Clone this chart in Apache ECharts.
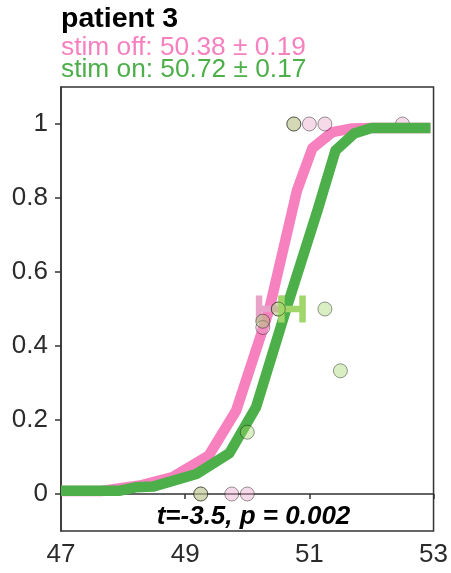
<!DOCTYPE html>
<html>
<head>
<meta charset="utf-8">
<script src="https://cdn.jsdelivr.net/npm/echarts@6/dist/echarts.min.js"></script>
<style>
  html, body { margin: 0; padding: 0; background: #fff; }
  #chart { width: 451px; height: 573px; }
</style>
</head>
<body>
<div id="chart"></div>
<script>
// Psychometric fits for patient 3, stimulation off vs on
const titleText = 'patient 3';
const offLabel = 'stim off: 50.38 \u00b1 0.19';
const onLabel = 'stim on: 50.72 \u00b1 0.17';
const statsText = 't=-3.5, p = 0.002';

const xTicks = [47, 49, 51, 53];
const yTicks = [0, 0.2, 0.4, 0.6, 0.8, 1];

// fitted curves (vertices)
const offCurveX = [47, 47.65, 48.27, 48.8, 49.38, 49.82, 50.35, 50.8, 51.05, 51.37, 51.69, 52.0, 52.95];
const offCurveY = [0.008, 0.008, 0.023, 0.046, 0.104, 0.225, 0.496, 0.82, 0.935, 0.978, 0.988, 0.989, 0.989];
const onCurveX = [47, 47.95, 48.2, 48.48, 49.18, 49.71, 50.14, 50.62, 51.13, 51.42, 51.72, 52.0, 52.95];
const onCurveY = [0.009, 0.009, 0.018, 0.02, 0.054, 0.11, 0.234, 0.496, 0.766, 0.928, 0.974, 0.989, 0.989];

// observed proportions per stimulus level
const offX = [49.25, 49.75, 50, 50.25, 50.5, 50.75, 51, 51.25, 52.5];
const offY = [0, 0, 0, 0.45, 0.5, 1, 1, 1, 1];
const onX = [49.25, 50, 50.25, 50.5, 50.75, 51.25, 51.5];
const onY = [0, 0.167, 0.467, 0.5, 1, 0.5, 0.333];

// threshold estimates: mean, standard error
const offMean = 50.38, offSE = 0.19;
const onMean = 50.72, onSE = 0.17;

const FONT = '"Liberation Sans", Arial, sans-serif';
const pinkLine = '#f781bf', greenLine = '#4daf4a';
const pinkLight = '#e9a3c9', greenLight = '#a1d76a';

const zip = (xs, ys) => xs.map((x, i) => [x, ys[i]]);

function errorBar(params, api) {
  const m = api.value(0), se = api.value(1), y = api.value(2);
  const l = api.coord([m - se, y]);
  const r = api.coord([m + se, y]);
  const capH = 13.5;
  const style = { stroke: api.visual('color'), lineWidth: 6.5, lineCap: 'butt' };
  return {
    type: 'group',
    children: [
      { type: 'line', shape: { x1: l[0], y1: l[1], x2: r[0], y2: r[1] }, style },
      { type: 'line', shape: { x1: l[0], y1: l[1] - capH, x2: l[0], y2: l[1] + capH }, style },
      { type: 'line', shape: { x1: r[0], y1: r[1] - capH, x2: r[0], y2: r[1] + capH }, style }
    ]
  };
}

const chart = echarts.init(document.getElementById('chart'), null, { renderer: 'canvas' });

chart.setOption({
  animation: false,
  backgroundColor: '#fff',
  grid: {
    left: 61, top: 87, right: 16, bottom: 42,
    show: true, borderColor: '#333', borderWidth: 1.5, backgroundColor: 'transparent'
  },
  xAxis: {
    type: 'value', min: 47, max: 53,
    splitLine: { show: false },
    axisLine: { lineStyle: { color: '#333', width: 1.5 } },
    axisTick: { length: 5, customValues: xTicks, lineStyle: { color: '#333', width: 1.5 } },
    axisLabel: { customValues: xTicks, fontSize: 26, fontFamily: FONT, color: '#2b2b2b', margin: 11 }
  },
  yAxis: {
    type: 'value', min: -0.1, max: 1.1,
    splitLine: { show: false },
    axisLine: { lineStyle: { color: '#333', width: 1.5 } },
    axisTick: { length: 6, customValues: yTicks, lineStyle: { color: '#333', width: 1.5 } },
    axisLabel: { customValues: yTicks, fontSize: 26, fontFamily: FONT, color: '#2b2b2b', margin: 13 }
  },
  graphic: [
    { type: 'text', left: 61, top: 5, style: { text: titleText, font: 'bold 28.5px ' + FONT, fill: '#000' } },
    { type: 'text', left: 61, top: 35, style: { text: offLabel, font: '26.3px ' + FONT, fill: pinkLine } },
    { type: 'text', left: 61, top: 57, style: { text: onLabel, font: '26.3px ' + FONT, fill: greenLine } },
    { type: 'text', x: 253.5, y: 517, z: 100,
      style: { text: statsText, font: 'italic bold 26px ' + FONT, fill: '#000', align: 'center', verticalAlign: 'middle' } }
  ],
  series: [
    {
      type: 'line', z: 1, data: zip(offCurveX, offCurveY), showSymbol: false, symbol: 'none',
      lineStyle: { color: pinkLine, width: 10.5, join: 'round', cap: 'butt' }
    },
    {
      type: 'custom', z: 2, renderItem: errorBar, itemStyle: { color: pinkLight },
      encode: { x: 0, y: 2 }, data: [[offMean, offSE, 0.5]]
    },
    {
      type: 'scatter', z: 3, data: zip(offX, offY), symbolSize: 14,
      itemStyle: { color: 'rgba(233,163,201,0.5)', borderColor: 'rgba(0,0,0,0.5)', borderWidth: 1 }
    },
    {
      type: 'line', z: 4, data: zip(onCurveX, onCurveY), showSymbol: false, symbol: 'none',
      lineStyle: { color: greenLine, width: 10.5, join: 'round', cap: 'butt' }
    },
    {
      type: 'custom', z: 5, renderItem: errorBar, itemStyle: { color: greenLight },
      encode: { x: 0, y: 2 }, data: [[onMean, onSE, 0.5]]
    },
    {
      type: 'scatter', z: 6, data: zip(onX, onY), symbolSize: 14,
      itemStyle: { color: 'rgba(161,215,106,0.5)', borderColor: 'rgba(0,0,0,0.5)', borderWidth: 1 }
    }
  ]
});
</script>
</body>
</html>
